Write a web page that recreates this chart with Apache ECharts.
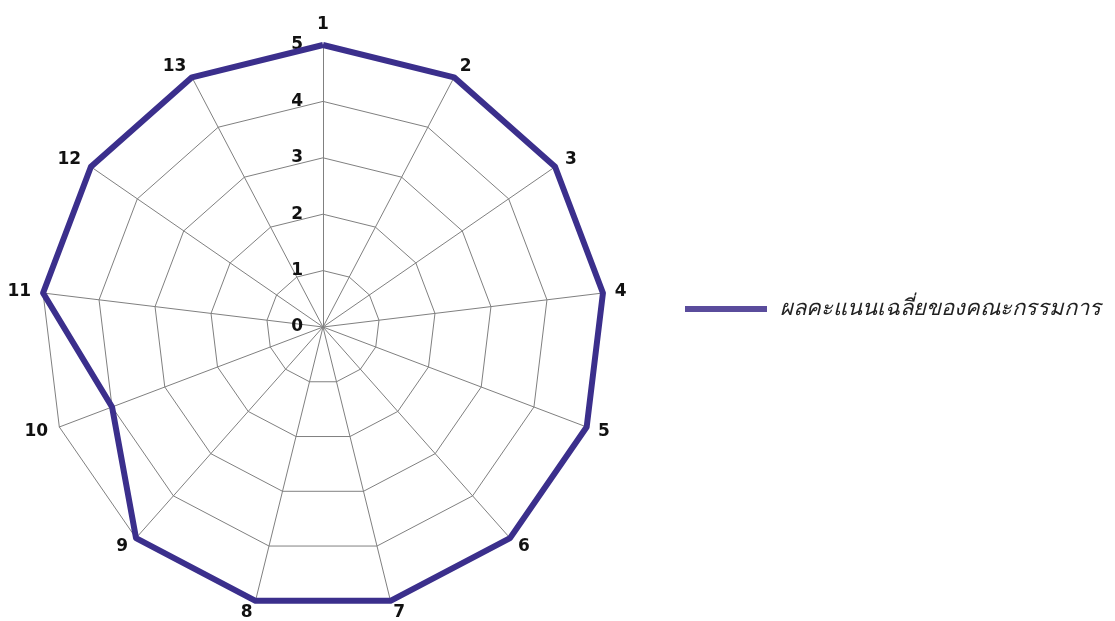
<!DOCTYPE html>
<html><head><meta charset="utf-8">
<script src="https://cdn.jsdelivr.net/npm/echarts@6/dist/echarts.min.js"></script>
<style>html,body{margin:0;padding:0;background:#fff}#c{width:1115px;height:621px}</style>
</head><body><div id="c"></div>
<script>
const categories = ['1','2','3','4','5','6','7','8','9','10','11','12','13'];
const seriesName = 'ผลคะแนนเฉลี่ยของคณะกรรมการ';
const values = [5,5,5,5,5,5,5,5,5,4,5,5,5];
const maxValue = 5;

// ECharts radar goes counter-clockwise; reorder (keeping first) to draw clockwise
const order = [0].concat(categories.map((_, i) => i).slice(1).reverse());
const indicator = order.map((idx, k) => {
  const o = { name: categories[idx], max: maxValue, min: 0 };
  if (k === 0) o.axisLabel = { show: true };
  return o;
});
const orderedValues = order.map(idx => values[idx]);

const chart = echarts.init(document.getElementById('c'));
chart.setOption({
  animation: false,
  backgroundColor: '#fff',
  legend: {
    left: 680, top: 293,
    itemWidth: 82, itemHeight: 6, itemGap: 20,
    icon: 'rect',
    textStyle: { fontSize: 22, fontStyle: 'italic', color: '#222', padding: [0, 0, 0, 8], fontFamily: 'DejaVu Sans, Noto Sans, sans-serif' },
    data: [seriesName]
  },
  radar: {
    center: [323, 327],
    radius: 282,
    startAngle: 90,
    splitNumber: 5,
    shape: 'polygon',
    indicator: indicator,
    axisName: { color: '#111', fontSize: 17, fontWeight: 'bold', fontFamily: 'DejaVu Sans, sans-serif' },
    nameGap: 12,
    axisLine: { lineStyle: { color: '#808080', width: 1 } },
    splitLine: { lineStyle: { color: '#808080', width: 1 } },
    splitArea: { show: false },
    axisTick: { show: false },
    axisLabel: { show: false, color: '#111', fontSize: 17, fontWeight: 'bold', fontFamily: 'DejaVu Sans, sans-serif', margin: 20 }
  },
  series: [{
    type: 'radar',
    name: seriesName,
    symbol: 'none',
    lineStyle: { color: '#3b2f8c', width: 6 },
    itemStyle: { color: '#5a4c9c' },
    data: [{ value: orderedValues, name: seriesName }]
  }]
});
</script></body></html>
